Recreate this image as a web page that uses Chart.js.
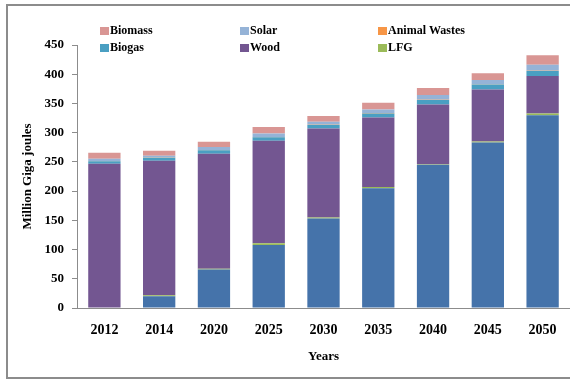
<!DOCTYPE html>
<html>
<head>
<meta charset="utf-8">
<script src="https://cdn.jsdelivr.net/npm/chart.js@4/dist/chart.umd.min.js"></script>
<style>
  html, body { margin: 0; padding: 0; background: #fff; }
  #wrap { width: 570px; height: 381px; position: relative; }
</style>
</head>
<body>
<div id="wrap"><canvas id="c" width="570" height="381"></canvas></div>
<script>
// Energy supply by source, million gigajoules
const years = ['2012', '2014', '2020', '2025', '2030', '2035', '2040', '2045', '2050'];
const other = [0, 20, 66, 108, 153, 205, 245, 283, 330];
const lfg = [0, 2, 1, 3, 2, 2, 1, 2, 3];
const wood = [247, 230, 197, 175, 152, 119, 102, 89, 64];
const biogas = [4, 5, 6, 6, 6, 7, 8, 8.5, 8.5];
const animalWastes = [0.5, 0.5, 0.5, 0.5, 0.5, 0.5, 0.5, 0.5, 0.5];
const solar = [4, 3, 5, 6, 5, 6, 8, 7, 10];
const biomass = [10, 8.5, 9, 11, 10, 11.5, 12, 11.5, 16.5];
const yTicks = [0, 50, 100, 150, 200, 250, 300, 350, 400, 450];

const serif = '"Liberation Serif", "Times New Roman", serif';

// legend grid: two rows of three, the first stack series is left out
const legendRows = [['Biomass', 'Solar', 'Animal Wastes'], ['Biogas', 'Wood', 'LFG']];

const gridLegend = {
  id: 'gridLegend',
  afterDraw(chart) {
    const ctx = chart.ctx;
    const cols = [100, 240, 378];
    const rowsY = [31, 48];
    ctx.save();
    ctx.font = 'bold 12px ' + serif;
    ctx.textBaseline = 'middle';
    legendRows.forEach((row, r) => {
      row.forEach((name, c) => {
        const ds = chart.data.datasets.find(d => d.label === name);
        if (!ds) return;
        ctx.fillStyle = ds.backgroundColor;
        ctx.fillRect(cols[c], rowsY[r] - 4, 9, 8);
        ctx.fillStyle = '#000';
        ctx.fillText(name, cols[c] + 10, rowsY[r]);
      });
    });
    ctx.restore();
  }
};

const frame = {
  id: 'frame',
  beforeDraw(chart) {
    const ctx = chart.ctx;
    ctx.save();
    ctx.fillStyle = '#fff';
    ctx.fillRect(0, 0, chart.width, chart.height);
    ctx.strokeStyle = '#8c8c8c';
    ctx.lineWidth = 2;
    ctx.strokeRect(7, 5, 570, 373);
    ctx.restore();
  }
};

const mk = (label, data, color) => ({
  label, data, backgroundColor: color, borderWidth: 0,
  categoryPercentage: 1.0, barPercentage: 0.59
});

new Chart(document.getElementById('c'), {
  type: 'bar',
  data: {
    labels: years,
    datasets: [
      mk('Other', other, '#4573aa'),
      mk('LFG', lfg, '#9bbb59'),
      mk('Wood', wood, '#735691'),
      mk('Biogas', biogas, '#4a9fc2'),
      mk('Animal Wastes', animalWastes, '#f79646'),
      mk('Solar', solar, '#95b3d7'),
      mk('Biomass', biomass, '#d99694')
    ]
  },
  options: {
    responsive: false,
    animation: false,
    layout: { padding: { top: 45, right: 0, bottom: 13, left: 20 } },
    plugins: { legend: { display: false }, tooltip: { enabled: false } },
    scales: {
      x: {
        stacked: true,
        offset: true,
        grid: { display: false },
        border: { display: true, color: '#8c8c8c', width: 1 },
        ticks: { color: '#000', font: { family: serif, size: 14, weight: 'bold' }, padding: 6 },
        title: { display: true, text: 'Years', color: '#000', font: { family: serif, size: 13, weight: 'bold' }, padding: { top: 4 } },
        afterFit(s) { s.height = 60; }
      },
      y: {
        stacked: true,
        min: 0,
        max: 450,
        afterBuildTicks(s) { s.ticks = yTicks.map(v => ({ value: v })); },
        grid: { drawOnChartArea: false, drawTicks: true, tickLength: 5, color: '#8c8c8c' },
        border: { display: true, color: '#8c8c8c', width: 1 },
        ticks: { color: '#000', font: { family: serif, size: 13, weight: 'bold' }, padding: 8 },
        title: { display: true, text: 'Million Giga joules', color: '#000', font: { family: serif, size: 13, weight: 'bold' }, padding: 0 },
        afterFit(s) { s.width = 57; }
      }
    }
  },
  plugins: [frame, gridLegend]
});
</script>
</body>
</html>
